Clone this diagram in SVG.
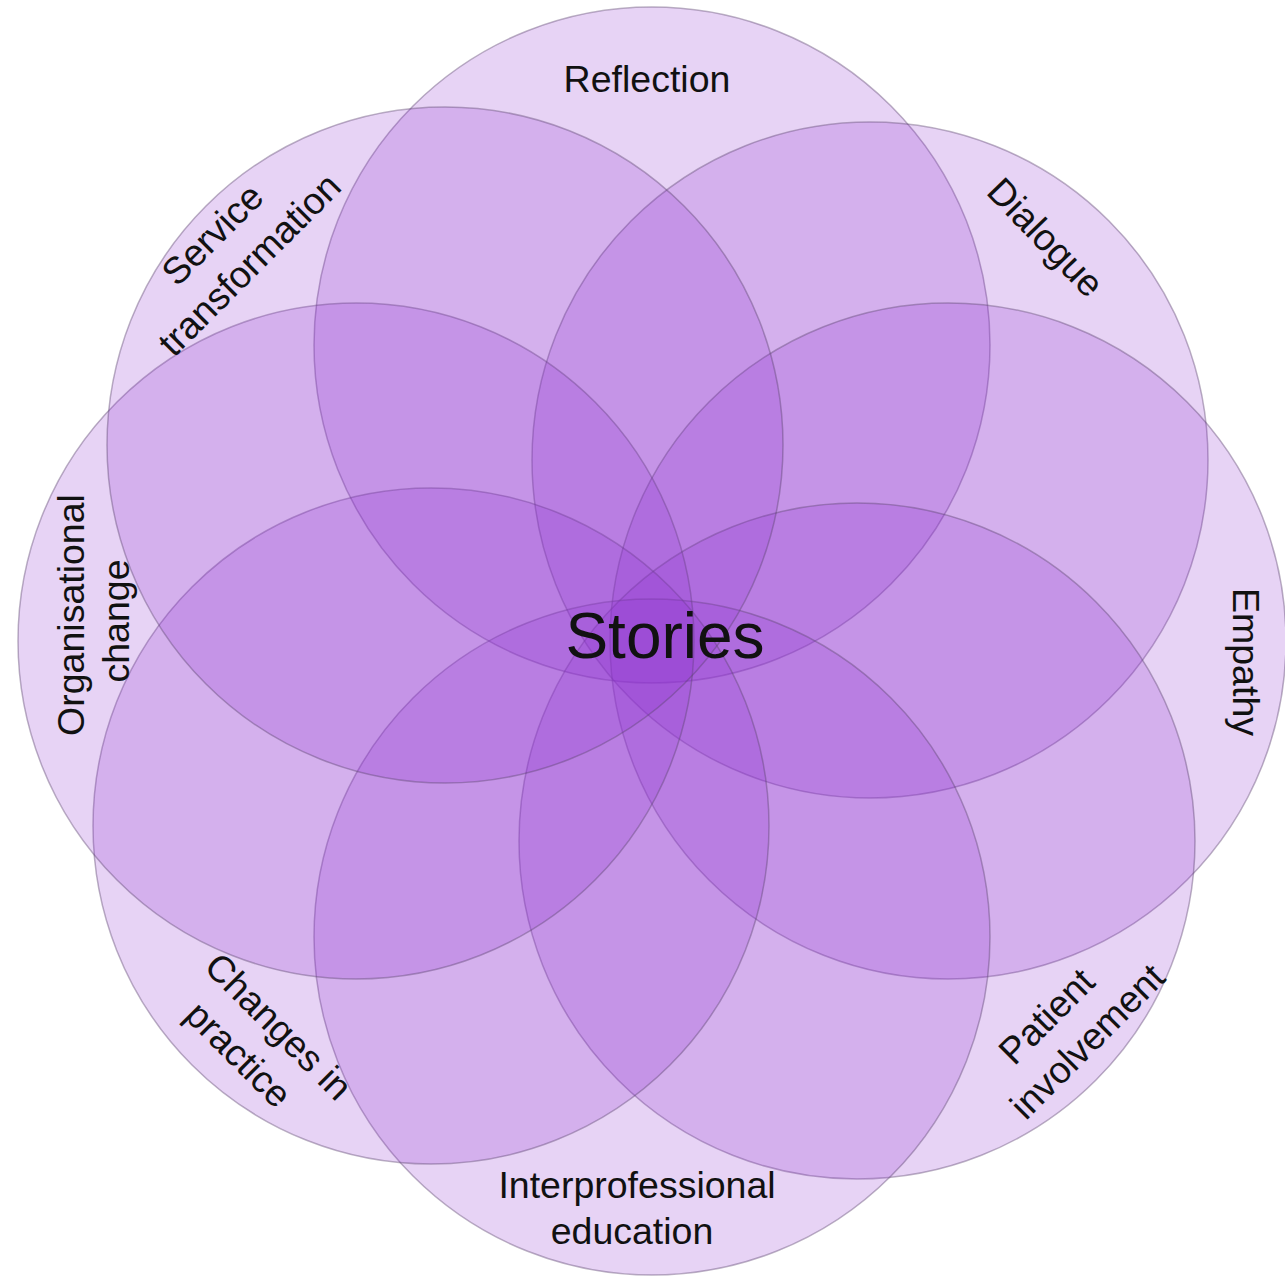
<svg xmlns="http://www.w3.org/2000/svg" width="1285" height="1279" viewBox="0 0 1285 1279">
<style>
.c{fill:#9030d0;fill-opacity:0.21;stroke:#5e4470;stroke-opacity:0.42;stroke-width:1.5}
.t{font-family:"Liberation Sans",Arial,sans-serif;font-size:37.5px;fill:#111;text-anchor:middle}
.s{font-family:"Liberation Sans",Arial,sans-serif;font-size:64px;fill:#111;text-anchor:middle}
</style>
<rect width="1285" height="1279" fill="#fff"/>
<g id="reflection"><circle class="c" cx="652" cy="345" r="338"/><text class="t" x="647" y="92">Reflection</text></g>
<g id="dialogue"><circle class="c" cx="870" cy="460" r="338"/><text class="t" transform="translate(1045,238) rotate(46)" y="12">Dialogue</text></g>
<g id="empathy"><circle class="c" cx="948" cy="641" r="338"/><text class="t" transform="translate(1245,662) rotate(90)" y="12">Empathy</text></g>
<g id="patient-involvement"><circle class="c" cx="857" cy="841" r="338"/><text class="t" transform="translate(1047,1017) rotate(-45)" y="12">Patient</text><text class="t" transform="translate(1088,1042) rotate(-45)" y="12">involvement</text></g>
<g id="interprofessional-education"><circle class="c" cx="652" cy="937" r="338"/><text class="t" x="637" y="1198">Interprofessional</text><text class="t" x="632" y="1244">education</text></g>
<g id="changes-in-practice"><circle class="c" cx="431" cy="826" r="338"/><text class="t" transform="translate(278,1027) rotate(45)" y="12">Changes in</text><text class="t" transform="translate(238,1055) rotate(45)" y="12">practice</text></g>
<g id="organisational-change"><circle class="c" cx="356" cy="641" r="338"/><text class="t" transform="translate(72,615) rotate(-90)" y="12">Organisational</text><text class="t" transform="translate(117,621) rotate(-90)" y="12">change</text></g>
<g id="service-transformation"><circle class="c" cx="445" cy="445" r="338"/><text class="t" transform="translate(213,235) rotate(-45)" y="12">Service</text><text class="t" transform="translate(250,265) rotate(-45)" y="12">transformation</text></g>
<g id="stories"><text class="s" x="665" y="658">Stories</text></g>
</svg>
